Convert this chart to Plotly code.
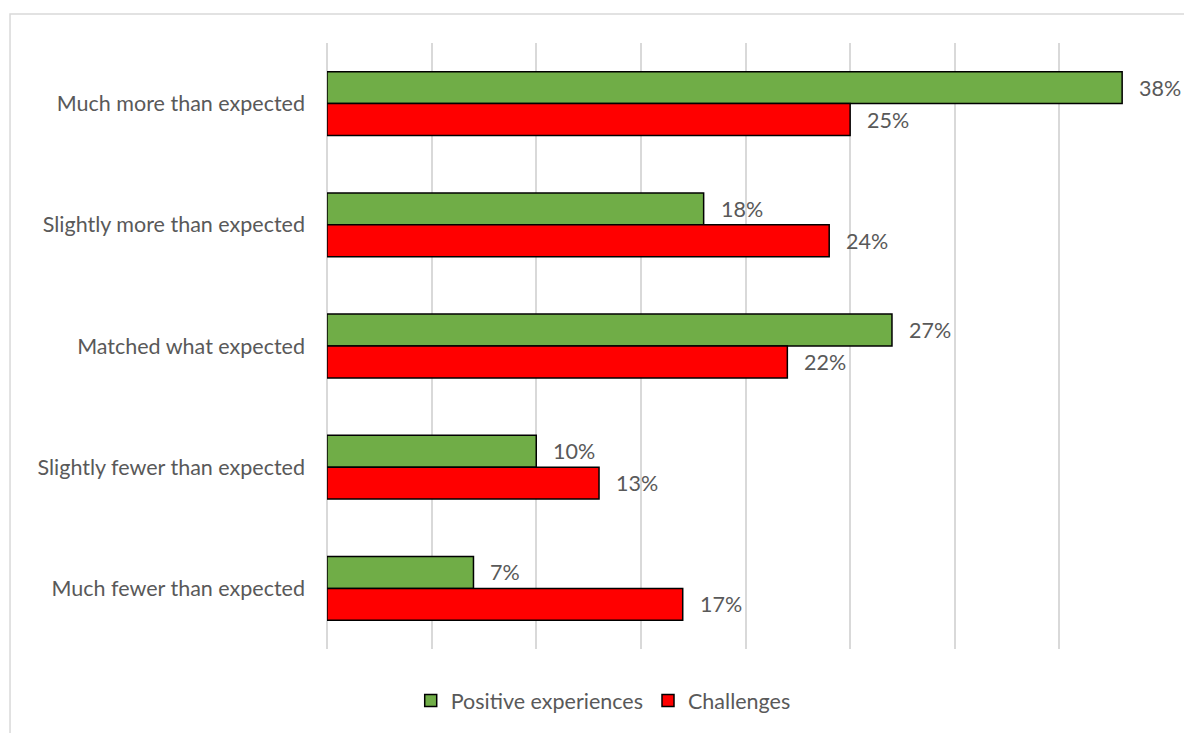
import plotly.graph_objects as go

categories = [
    "Much more than expected",
    "Slightly more than expected",
    "Matched what expected",
    "Slightly fewer than expected",
    "Much fewer than expected",
]
positive = [38, 18, 27, 10, 7]
challenges = [25, 24, 22, 13, 17]

GREEN = "#70AD47"
RED = "#FF0000"
TEXT = "#595959"
GRID = "#D9D9D9"
FONT = "Lato, Calibri, sans-serif"
FS = 21.5

fig = go.Figure()
fig.add_trace(go.Bar(
    y=categories, x=positive, orientation="h", name="Positive experiences",
    marker=dict(color=GREEN, line=dict(color="black", width=1.5)),
))
fig.add_trace(go.Bar(
    y=categories, x=challenges, orientation="h", name="Challenges",
    marker=dict(color=RED, line=dict(color="black", width=1.5)),
))

# value labels just past the end of each bar
annotations = []
for cat, p, c in zip(categories, positive, challenges):
    for val, shift in ((p, 16), (c, -16)):
        annotations.append(dict(
            x=val, y=cat, xref="x", yref="y", text=f"{val}%",
            showarrow=False, xanchor="left", yanchor="middle",
            xshift=15, yshift=shift, font=dict(size=FS, color=TEXT, family=FONT),
        ))

fig.update_layout(
    width=1184, height=733,
    margin=dict(l=327, r=20, t=43, b=82),
    paper_bgcolor="white", plot_bgcolor="white",
    barmode="group", bargap=0.474, bargroupgap=0,
    font=dict(family=FONT, size=FS, color=TEXT),
    xaxis=dict(
        range=[0, 40], dtick=5, showticklabels=False, showgrid=True,
        gridcolor=GRID, gridwidth=2, zeroline=True, zerolinecolor=GRID,
        zerolinewidth=2, showline=False, fixedrange=True,
    ),
    yaxis=dict(
        autorange="reversed", showgrid=False, showline=False, ticks="",
        ticklabelstandoff=21, tickfont=dict(size=FS, color=TEXT, family=FONT),
    ),
    legend=dict(
        orientation="h", x=0.33, xanchor="center", y=-0.085, yanchor="middle",
        font=dict(size=FS, color=TEXT, family=FONT), traceorder="normal",
    ),
    annotations=annotations,
    shapes=[dict(
        type="rect", xref="paper", yref="paper",
        x0=-0.3787, x1=1.1, y0=-0.3, y1=1.0477,
        line=dict(color=GRID, width=1.5), fillcolor="rgba(0,0,0,0)", layer="below",
    )],
)

fig.write_html("out.html")
